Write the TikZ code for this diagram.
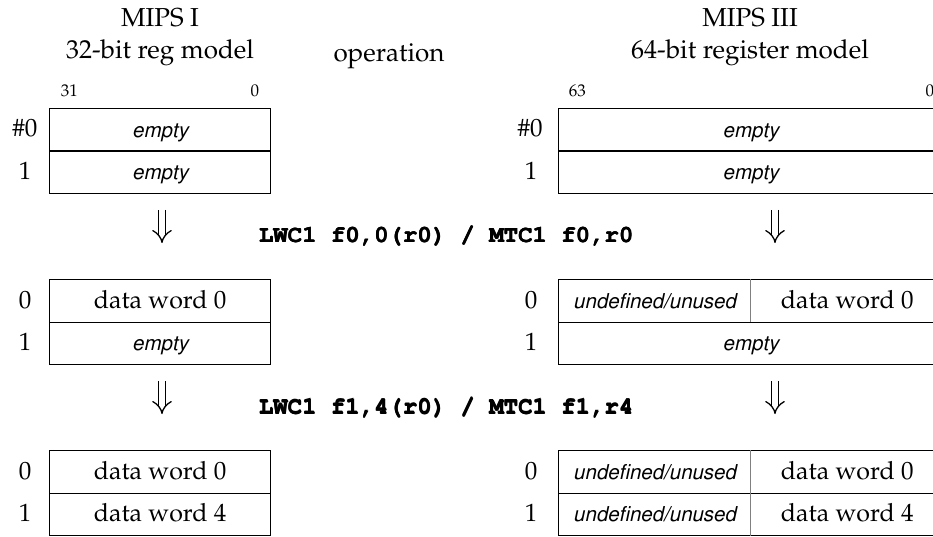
\documentclass[tikz,border=0pt]{standalone}
\usepackage[T1]{fontenc}
\usepackage{mathpazo}
\usepackage{helvet}
\usepackage{courier}
\usetikzlibrary{arrows.meta, positioning}

% heavier Courier for the instructions
\newcommand{\heavytt}[1]{\rlap{\kern0.6pt#1}\rlap{\raisebox{0.3pt}{#1}}#1}

\begin{document}
\begin{tikzpicture}[x=1pt, y=-1pt, line width=1.2pt,
  cell/.style={draw, anchor=north west, minimum height=42.5pt, inner sep=0pt,
    text height=17pt, text depth=2.5pt},
  narrow/.style={cell, minimum width=221pt},
  wide/.style={cell, minimum width=384pt},
  half/.style={cell, draw=none, minimum width=192pt},
  word/.style={font=\fontsize{25}{28}\selectfont},
  hollow/.style={font=\fontsize{20.5}{24}\selectfont\sffamily\itshape},
  title/.style={anchor=base, font=\fontsize{26}{30}\selectfont},
  bit/.style={font=\fontsize{17}{20}\selectfont},
  regno/.style={anchor=base, font=\fontsize{25}{28}\selectfont},
  optxt/.style={anchor=base, font=\fontsize{24}{28}\selectfont\ttfamily\bfseries},
  split/.style={draw=black!50, line width=0.8pt},
  dbl/.style={line width=1.3pt, double distance=5.6pt, -{Implies[scale=1.35]}}]

\useasboundingbox (0,0) rectangle (933,537);

% Headings
\node[title] (ta) at (160,27) {MIPS I};
\node[title] (tb) at (160,59) {32-bit reg model};
\node[title] (to) at (389,62) {operation};
\node[title] (tc) at (750,27) {MIPS III};
\node[title] (td) at (750,59) {64-bit register model};

% Bit numbers
\node[bit, anchor=base west] (b31) at (57,97) {31};
\node[bit, anchor=base east] (b0l) at (263,97) {0};
\node[bit, anchor=base west] (b63) at (565,97) {63};
\node[bit, anchor=base east] (b0r) at (938,97) {0};

% --- Initial state ---
\node[narrow, hollow] (l10) at (49,108) {empty};
\node[narrow, hollow] (l11) at (49,150.5) {empty};
\node[wide, hollow] (r10) at (558,108) {empty};
\node[wide, hollow] (r11) at (558,150.5) {empty};
\node[regno] at (25,137) {\#0};
\node[regno] at (25,179.5) {1};
\node[regno] at (530,137) {\#0};
\node[regno] at (531,179.5) {1};

% First load
\coordinate (d1l) at (162,210);
\coordinate (d1r) at (775,210);
\draw[dbl] (d1l) -- ++(0,33);
\draw[dbl] (d1r) -- ++(0,33);
\node[optxt] (op1) at (446,243) {\heavytt{LWC1 f0,0(r0) / MTC1 f0,r0}};

% --- After first load ---
\node[narrow, word] (l20) at (49,279) {data word 0};
\node[narrow, hollow] (l21) at (49,321.5) {empty};
\node[wide] (r20) at (558,279) {};
\node[half, hollow] (r20u) at (r20.north west) {undefined/unused};
\node[half, word] (r20d) at (r20.north) {data word 0};
\draw[split] (r20.north) -- (r20.south);
\node[wide, hollow] (r21) at (558,321.5) {empty};
\node[regno] at (25,308) {0};
\node[regno] at (25,350.5) {1};
\node[regno] at (531,308) {0};
\node[regno] at (531,350.5) {1};

% Second load
\coordinate (d2l) at (162,381);
\coordinate (d2r) at (775,381);
\draw[dbl] (d2l) -- ++(0,33);
\draw[dbl] (d2r) -- ++(0,33);
\node[optxt] (op2) at (446,414) {\heavytt{LWC1 f1,4(r0) / MTC1 f1,r4}};

% --- After second load ---
\node[narrow, word] (l30) at (49,450) {data word 0};
\node[narrow, word] (l31) at (49,492.5) {data word 4};
\node[wide] (r30) at (558,450) {};
\node[half, hollow] (r30u) at (r30.north west) {undefined/unused};
\node[half, word] (r30d) at (r30.north) {data word 0};
\draw[split] (r30.north) -- (r30.south);
\node[wide] (r31) at (558,492.5) {};
\node[half, hollow] (r31u) at (r31.north west) {undefined/unused};
\node[half, word] (r31d) at (r31.north) {data word 4};
\draw[split] (r31.north) -- (r31.south);
\node[regno] at (25,479) {0};
\node[regno] at (25,521.5) {1};
\node[regno] at (531,479) {0};
\node[regno] at (531,521.5) {1};

\end{tikzpicture}
\end{document}
